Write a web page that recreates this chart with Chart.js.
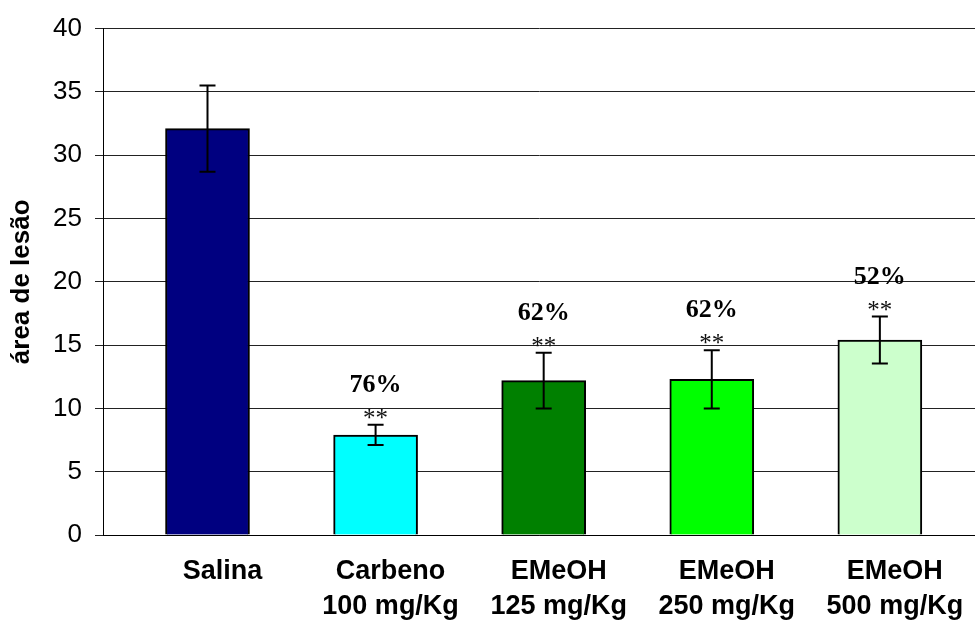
<!DOCTYPE html>
<html>
<head>
<meta charset="utf-8">
<script src="https://cdn.jsdelivr.net/npm/chart.js@4.4.0/dist/chart.umd.min.js"></script>
<style>
    html, body { margin: 0; padding: 0; background: #fff; }
    #wrap { width: 975px; height: 621px; }
</style>
</head>
<body>
<div id="wrap"><canvas id="lesao_chart"></canvas></div>
<script>
// data
const groups = [
    ["Salina"],
    ["Carbeno", "100 mg/Kg"],
    ["EMeOH", "125 mg/Kg"],
    ["EMeOH", "250 mg/Kg"],
    ["EMeOH", "500 mg/Kg"],
];
const means = [32.1, 7.9, 12.2, 12.3, 15.4];
const errors = [3.4, 0.8, 2.2, 2.3, 1.85];
const stars = ["", "**", "**", "**", "**"];
const inhibition = ["", "76%", "62%", "62%", "52%"];
const barColors = ["#000080", "#00FFFF", "#008000", "#00FF00", "#CCFFCC"];
const yTicks = [0, 5, 10, 15, 20, 25, 30, 35, 40];

const ctx = document.querySelector("#lesao_chart").getContext("2d");

// error bars + significance labels
const errorBarPlugin = {
    id: "errorBars",
    afterDatasetsDraw(chart) {
        const xs = chart.scales.x;
        const ys = chart.scales.y;
        const c = chart.ctx;
        c.save();
        means.forEach((m, i) => {
            const x = xs.getPixelForValue(i);
            const top = ys.getPixelForValue(m + errors[i]);
            const bot = ys.getPixelForValue(m - errors[i]);
            c.strokeStyle = "#000";
            c.lineWidth = 2;
            c.beginPath();
            c.moveTo(x, top);
            c.lineTo(x, bot);
            c.moveTo(x - 8, top);
            c.lineTo(x + 8, top);
            c.moveTo(x - 8, bot);
            c.lineTo(x + 8, bot);
            c.stroke();

            c.textAlign = "center";
            c.textBaseline = "alphabetic";
            if (stars[i]) {
                c.fillStyle = "#111";
                c.font = "25px 'Liberation Serif', 'Times New Roman', serif";
                c.fillText(stars[i], x, top - 11 + 12);
            }
            if (inhibition[i]) {
                c.fillStyle = "#000";
                c.font = "bold 26px 'Liberation Serif', 'Times New Roman', serif";
                c.fillText(inhibition[i], x, top - 42 + 9);
            }
        });
        c.restore();
    },
};

const lesaoChart = new Chart(ctx, {
    type: "bar",
    data: {
        datasets: [
            {
                label: "área de lesão",
                data: means.map((v, i) => ({ x: i, y: v })),
                backgroundColor: barColors,
                borderColor: "#000",
                borderWidth: 2,
                barThickness: 84,
            },
        ],
    },
    options: {
        responsive: true,
        maintainAspectRatio: false,
        animation: false,
        layout: {
            padding: { top: 27, right: 0, bottom: 0, left: 0 },
        },
        plugins: {
            legend: { display: false },
            tooltip: { enabled: false },
        },
        scales: {
            x: {
                type: "linear",
                offset: false,
                min: -0.6217,
                max: 4.566,
                afterBuildTicks: (scale) => {
                    scale.ticks = groups.map((g, i) => ({ value: i }));
                },
                afterFit: (scale) => {
                    scale.height = 86;
                },
                ticks: {
                    autoSkip: false,
                    maxRotation: 0,
                    padding: 11,
                    labelOffset: 15,
                    color: "#000",
                    font: {
                        family: "'Liberation Sans', Arial, sans-serif",
                        size: 27,
                        weight: "bold",
                        lineHeight: 1.3,
                    },
                    callback: (v) => groups[v],
                },
                grid: { display: false },
                border: { display: true, color: "#000", width: 1 },
            },
            y: {
                min: 0,
                max: 40,
                afterBuildTicks: (scale) => {
                    scale.ticks = yTicks.map((v) => ({ value: v }));
                },
                afterFit: (scale) => {
                    scale.width = 103;
                },
                ticks: {
                    padding: 13,
                    color: "#000",
                    font: {
                        family: "'Liberation Sans', Arial, sans-serif",
                        size: 26,
                    },
                },
                grid: {
                    color: "#222",
                    lineWidth: 1,
                    tickLength: 8,
                    drawTicks: true,
                },
                border: { display: true, color: "#000", width: 1 },
                title: {
                    display: true,
                    text: "área de lesão",
                    color: "#000",
                    padding: { top: 6, bottom: 0 },
                    font: {
                        family: "'Liberation Sans', Arial, sans-serif",
                        size: 26,
                        weight: "bold",
                        lineHeight: 1.2,
                    },
                },
            },
        },
    },
    plugins: [errorBarPlugin],
});
</script>
</body>
</html>
